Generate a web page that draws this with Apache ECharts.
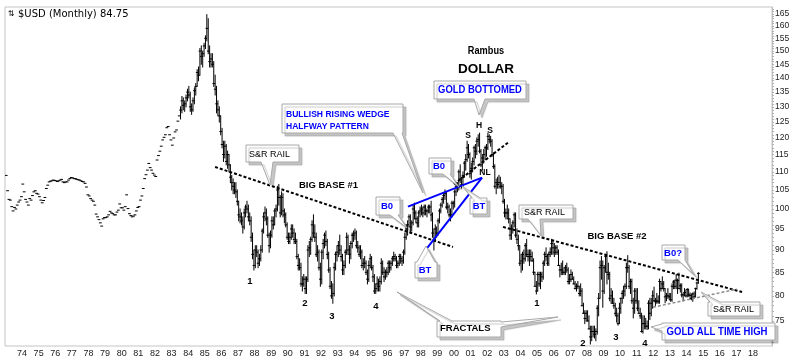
<!DOCTYPE html>
<html><head><meta charset="utf-8">
<script src="https://cdn.jsdelivr.net/npm/echarts@6/dist/echarts.min.js"></script>
<style>html,body{margin:0;padding:0;background:#fff}#c{width:800px;height:363px}</style>
</head><body><div id="c"></div>
<script>
// ---------- DATA ----------
const startYear = 1973;            // first month = Jan 1973
// close-only months, Jan 1973 .. Jun 1983
const closeOnly = [
 109.0,104.8,102.5,102.3,100.6,99.5,100.4,100.0,101.0,101.8,102.3,103.2,
 106.6,104.5,102.5,101.8,101.0,102.7,102.3,103.5,104.5,104.8,104.1,103.9,
 103.2,102.3,101.6,102.2,103.0,105.4,106.3,107.2,107.4,107.5,107.7,107.6,
 107.5,107.3,107.5,107.7,107.9,107.2,107.0,107.2,107.2,107.7,108.1,108.4,
 108.3,108.1,108.1,107.9,107.8,107.7,107.5,107.3,107.2,106.8,105.8,103.7,
 103.4,102.7,102.3,102.0,101.0,98.7,98.0,97.3,96.5,95.7,97.5,97.8,
 97.8,98.0,98.5,99.4,99.0,98.8,98.5,98.5,99.2,99.7,101.3,100.3,
 100.3,99.7,100.6,103.7,100.1,98.8,98.3,98.0,98.2,98.5,99.5,100.4,
 100.6,102.3,103.4,105.4,108.1,109.2,110.5,112.4,111.2,110.5,109.6,109.1,
 108.7,113.4,114.7,116.0,117.5,119.4,120.2,121.0,123.2,123.6,121.0,119.4,
 117.8,120.0,121.9,122.5,125.3,127.0
];
// monthly bars, Jul 1983 .. Sep 2014
const barClose = [
 128.9,132,130.5,131,133,135,
 134,130,129,132,135.5,137,142,141,150,148,149,152,
 155,159,150,146,147,145,138,136,131,129,127,122,
 118,115,117.5,113,115,112,108.5,107,106,105,104.5,102,
 98.5,98,97,95.5,99,100.5,100,98,97,93,89,86.5,
 90,89.5,87,88,90,94.5,98,99,97.5,93.5,91,93.5,
 97,96,99.5,100,105,103,99,103,99.5,98.5,96,93,
 92,93,95,94,92.5,92,88.5,86.5,86,82.5,82.5,83.5,
 81.5,83.5,90,90.5,92.5,96,94,93,89,89.5,86,83.5,
 89.5,91.5,93.5,92,89,85.5,82,80,80.5,86,89,89.5,
 91,90,88.5,85.5,86.5,89.5,93,90,89,91.5,93.5,93.5,
 94,91,90.5,89,89.5,86.5,87,87,85,83.5,86.5,88,
 86,84,81,81.5,82.5,82,83,87,85,84,85,85,
 87,86,87,88,88.5,88,86.5,87,88.5,88,87.5,89.5,
 93,95,96,98,95.5,96.5,100,99,97.5,96.5,99,99.5,
 100,99,100.5,99.5,99.5,100.5,100.5,98.5,94,92.5,95,94,
 97,99.5,101,102.5,103.5,104,100.5,100.5,98.5,98.5,101.5,101.5,
 104.5,106,106,110,108,106.5,109,112.5,113.5,117,115,109.5,
 111,113,117,116,119,119.5,116,112,114,115,117,117,
 120.5,119.5,119,115,111.5,106,107,106.5,107,106,106,102,
 99,99,99,97.5,93.5,95,96.5,98.5,93.5,92.5,91,87,
 87.5,89,88,91,89,88.5,89,88.5,87.5,85,82,81,
 84.5,82.5,84.5,84,87,89,88.5,87,89,89.5,91.5,90.5,
 89.5,90.5,89.5,86.5,85.5,85.5,85,85,86,85.5,83,83.5,
 84.5,83.5,82.5,81.5,82,82,80.5,81,78,76.5,75.5,76.5,
 75,73.5,72,73,73,72.5,73,77.5,79.5,86,86.5,81,
 86,88.5,85,84.5,79.5,80,78.5,78,76.5,76,74.5,77.5,
 79.5,80.5,81,82,86,86,82,83,79,77.5,81,79,
 77.5,76.5,76,73,74.5,74.5,74,74,78.5,76.5,78.5,80,
 79,78.8,79,78.8,83,81.5,82.5,81.5,79.8,80,80,79.8,
 79.2,82,82.9,82,83.3,83.2,81.5,82.1,80.2,80.2,80.7,80,
 81.3,80.2,80.1,79.5,80.4,79.8,81.5,82.7,84.75
];
const barHigh = [
 130,133.5,133,132,134,136,
 137,135,131,133,136.5,138,143,144,151,152,150,153,
 156,164.7,163,152,149,149,146,141,137,132,130,127,
 123,119,119,118,116,115,112,109,108,107,107,105,
 102,100,99,98,100,101,102,101,99,98,94,90,
 91,91,90,89,91,95,99,100.5,100,98,94,94.5,
 98,98,100,101,106,106.5,103.5,104.5,104,100,99,96.5,
 94,94,96,96,95,94,92.5,89,88,87,84,84.5,
 84,84,91,92,93,97,98.5,96,94,91,90,87,
 90,92.5,94,94.5,92.5,89.5,86,83,82.5,87,89.5,91,
 92,93.5,91,89,87.5,90,94,93.5,91,92,94,94.5,
 95,94.5,92,91,91,90,88,88.5,87.5,85.5,87.5,89,
 88.5,86.5,84.5,82.5,84,83.5,84,88,87.5,86,85.5,86,
 87.5,87.5,87.5,88.5,89.5,89,88.5,87.5,89,89,88.5,90,
 94,96,97,98.5,98.5,97,101,101.5,99.5,98,99.5,100.5,
 101,100.5,101,101,100,101,101,102,99,95,96,95.5,
 97.5,100,101.5,103,104,105,104.5,101.5,101,100,102,102,
 105,107,107,110.5,112,108.5,110,113,115,119,118,115.5,
 112.5,114,117.5,118,120,121,121.5,116.5,115,116.5,117.5,118,
 121.5,121,120.5,119.5,115.5,112,108,108.5,109,108.5,107,106.5,
 102.5,100,101,100,97.5,96,97,99,99,95,93.5,91,
 89,89.5,90,91.5,92.5,90,90,90,89.5,88,85,83,
 85,85,85,85,87.5,89.5,90.5,89,89.5,90.5,92.5,92,
 91.5,91,91,90,86.5,87,87.5,86,86.5,87,86,84.5,
 85.5,85,84,83,82.5,83,82,82.5,81.5,78.5,77,77,
 77,76,74,74,74,74,73.5,78,80.5,87.5,88.5,87.5,
 86.5,89,89.6,87,85,81.5,81,79.5,78.5,77.5,76.5,78.5,
 79.5,81,82,82.5,87,88.7,86.5,83.5,83.5,79.5,81.5,81.5,
 81.5,79,77.5,76.5,76,76,75.5,75,79,79.5,79.5,81,
 81.8,79.5,80.5,80,83.5,83,84,83,81.5,80.5,81.5,80.5,
 80.5,82.5,83.2,83.3,84.5,83.5,84.8,82.5,82.5,80.5,81.5,81.2,
 81.5,81.4,80.6,80.4,80.6,80.8,81.6,82.9,84.9
];
const barLow = [
 126,128,129,128.5,130,132,
 133,128.5,127.5,128.5,131,134,137,139,141,145,144,148,
 151,154,149,144,144,144,137,134,128,127,125,121,
 117,113,114,112,111,110,107,105,104,104,103,101,
 97,96.5,96,94,95,98,99,97,96,92,88,85.5,
 86,88.5,86,86.5,87.5,89.5,94,97,96,93,89.5,90.5,
 93,95,96,98,99.5,101,98,98.5,98,96.5,95.5,92.5,
 91.5,91.5,92.5,93,91.5,91.5,88,85.5,85.5,82,81,82,
 80.5,80.5,83,88.5,89,92,93,92,88.5,87.5,85.5,82,
 82.5,88,90.5,91,88,85,81.5,79.5,78.5,80,85.5,87.5,
 88.5,89,87.5,84.5,84.5,86,89,89,87,88,90.5,92,
 92.5,90.5,89.5,88.5,88,86,85.5,86,84.5,82.5,83,86,
 85.5,83,80.5,80.5,81,81,81,82.5,84.5,83,83.5,84,
 84.5,85,85.5,86.5,87.5,87.5,86,86,86.5,87,86.5,87,
 89,92.5,93.5,95.5,94,94.5,96,97.5,96.5,95.5,95.5,98,
 98.5,98,98.5,98.5,98,99,99,97,93,90,92,93,
 93.5,96.5,99,100.5,101.5,102.5,100,99,98,97,98,100,
 100.5,103.5,104.5,105,107,105.5,106,108.5,110.5,113,114,108.5,
 108,110,112,114,115,117.5,115.5,111.5,110.5,112.5,113.5,114.5,
 116.5,118.5,117.5,114.5,111,105.5,104,105.5,105.5,105.5,104,101.5,
 98,97.5,97.5,96.5,92.5,92.5,94,95.5,93,91.5,90,86.5,
 85,85.5,87,87.5,88.5,87.5,86.5,87.5,87.5,84.5,82,80.4,
 81,82,81.5,83,83.5,86.5,87.5,86.5,86.5,88.5,89,89,
 88.5,89,89,86.5,84,84.5,84.5,84.5,84.5,85,82.5,82.5,
 83,83.5,82.5,81.5,81,81.5,80,80,78,76.5,74.5,75,
 75,73.5,70.7,71.3,72,71.8,71.3,72.5,76,79.5,83.5,77.7,
 80.5,85,82.5,83.5,79,78.5,78.5,77.5,76,74.8,74.2,74.5,
 76.5,78.5,79.5,80,81.5,85,81.5,80.5,78.5,75.6,76.5,78.5,
 77,76.5,75.5,72.9,72.7,73.5,73.5,73.4,73.5,75.3,76,77.5,
 78.9,78,78.5,78.5,78.5,81,81.5,81,78.6,79,79.5,79.2,
 78.9,78.9,81.5,81.5,81.5,80.5,81.5,80.8,79.8,79,80,79.8,
 79.8,79.9,79.3,79.2,78.9,79.7,79.8,81.4,82.6
];
// axis tick labels
const yTickLabels = [75,80,85,90,95,100,105,110,115,120,125,130,135,140,145,150,155,160,165];
const xTickYears = [];
for (let y = 1974; y <= 2018; y++) xTickYears.push(y);
// trend lines [year, value]
const railOne   = [[1985.62,111.4],[1999.94,90.7]];
const neckLine  = [[2000.0,106.6],[2003.31,118.8]];
const railTwo   = [[2002.95,95.5],[2017.34,80.8]];
const supportLn = [[2011.98,77.7],[2017.03,81.4]];
const wedgeTop  = [[1997.23,100.6],[2001.69,108.4]];
const wedgeLow  = [[1998.25,89.8],[2001.69,108.4]];

// ---------- BUILD ----------
const L = Math.log;
const bars = [];
closeOnly.forEach((c, i) => {
  bars.push([startYear + (i + 0.5) / 12, L(c), L(c), L(c)]);
});
barClose.forEach((c, j) => {
  const i = closeOnly.length + j;
  bars.push([startYear + (i + 0.5) / 12, L(barLow[j]), L(barHigh[j]), L(c)]);
});
const toLn = arr => arr.map(p => [p[0], L(p[1])]);

const Y_MIN = 4.25329, Y_MAX = 5.12386;
const X_MIN = 1972.976, X_MAX = 2019.142;
const minorTicks = [];
for (let v = 71; v <= 167; v++) minorTicks.push(L(v));

const SANS = "'Liberation Sans', Arial, sans-serif";
const BLUE = '#0000ff';

function callout(b, tails) {
  const x1 = b[0], y1 = b[1], x2 = b[2], y2 = b[3];
  const on = s => tails.filter(t => t.side === s);
  const pts = [[x1, y1]];
  on('top').forEach(t => pts.push([t.a, y1], t.tip, [t.b, y1]));
  pts.push([x2, y1]);
  on('right').forEach(t => pts.push([x2, t.a], t.tip, [x2, t.b]));
  pts.push([x2, y2]);
  on('bottom').forEach(t => pts.push([t.b, y2], t.tip, [t.a, y2]));
  pts.push([x1, y2]);
  on('left').forEach(t => pts.push([x1, t.b], t.tip, [x1, t.a]));
  return {
    type: 'polygon', z: 50, shape: { points: pts },
    style: { fill: '#fff', stroke: '#a8a8a8', lineWidth: 1,
      shadowColor: 'rgba(0,0,0,0.22)', shadowOffsetX: 3, shadowOffsetY: 3, shadowBlur: 1 }
  };
}
function txt(text, x, y, font, fill, align, sx) {
  return {
    type: 'text', z: 60, x: x, y: y, scaleX: sx || 1,
    style: { text: text, font: font, fill: fill, align: align || 'center', textAlign: align || 'center',
      verticalAlign: 'middle', textVerticalAlign: 'middle' }
  };
}

const graphics = [
  callout([434,81,526,99], [{side:'bottom', a:474, b:485, tip:[479,115]}]),
  callout([282,104,403,133], [{side:'bottom', a:393, b:402, tip:[423,193]}]),
  callout([246,145,299,162], [{side:'bottom', a:261, b:273, tip:[270,185]}]),
  callout([376,197,400,215], [{side:'bottom', a:390, b:398, tip:[407,228]}]),
  callout([429,158,451,174], [{side:'bottom', a:443, b:450, tip:[459,187]}]),
  callout([470,198,487,214], [{side:'top', a:472, b:480, tip:[462,186]}]),
  callout([415,262,437,278], [{side:'top', a:417, b:435, tip:[426,246]}]),
  callout([519,205,573,219], [{side:'bottom', a:528, b:540, tip:[541,236]}]),
  callout([662,245,685,260], [{side:'bottom', a:678, b:685, tip:[694,275]}]),
  callout([708,302,760,316], [{side:'top', a:710, b:720, tip:[701,292]}]),
  callout([662,323,775,340], [{side:'left', a:324, b:331, tip:[651,327]}]),
  callout([437,321,501,337], [{side:'top', a:440, b:452, tip:[397,292]}, {side:'right', a:322, b:327, tip:[558,317]}]),

  txt('GOLD BOTTOMED', 480, 90.5, 'bold 10.5px ' + SANS, BLUE, 'center', 0.9),
  txt('BULLISH RISING WEDGE', 286, 114.5, 'bold 9.2px ' + SANS, BLUE, 'left', 0.93),
  txt('HALFWAY PATTERN', 286, 126.5, 'bold 9.2px ' + SANS, BLUE, 'left', 0.93),
  txt('S&R RAIL', 249, 154.5, '9px ' + SANS, '#000', 'left'),
  txt('B0', 387, 206.5, 'bold 9.5px ' + SANS, BLUE),
  txt('B0', 439, 166.5, 'bold 9.5px ' + SANS, BLUE),
  txt('BT', 479, 206.5, 'bold 9.5px ' + SANS, BLUE),
  txt('BT', 425, 270.5, 'bold 9.5px ' + SANS, BLUE),
  txt('S&R RAIL', 524, 212.5, '9px ' + SANS, '#000', 'left'),
  txt('B0?', 673, 253, 'bold 9.5px ' + SANS, BLUE),
  txt('S&R RAIL', 713, 309.5, '9px ' + SANS, '#000', 'left'),
  txt('GOLD ALL TIME HIGH', 717, 332, 'bold 11px ' + SANS, BLUE, 'center', 0.87),
  txt('FRACTALS', 440, 328, 'bold 9.5px ' + SANS, '#000', 'left'),

  txt('Rambus', 486, 51, 'bold 10px ' + SANS, '#000', 'center', 0.92),
  txt('DOLLAR', 486, 69, 'bold 13.5px ' + SANS, '#000'),
  txt('BIG BASE #1', 328.5, 185, 'bold 9.5px ' + SANS, '#000'),
  txt('BIG BASE #2', 617, 236, 'bold 9.5px ' + SANS, '#000'),
  txt('S', 468, 136, 'bold 8.5px ' + SANS, '#000'),
  txt('H', 479, 126, 'bold 8.5px ' + SANS, '#000'),
  txt('S', 490, 131, 'bold 8.5px ' + SANS, '#000'),
  txt('NL', 485, 173, 'bold 8.5px ' + SANS, '#000'),
  txt('1', 250, 281, 'bold 9.5px ' + SANS, '#000'),
  txt('2', 305, 303, 'bold 9.5px ' + SANS, '#000'),
  txt('3', 332, 316, 'bold 9.5px ' + SANS, '#000'),
  txt('4', 376, 306, 'bold 9.5px ' + SANS, '#000'),
  txt('1', 537, 303, 'bold 9.5px ' + SANS, '#000'),
  txt('2', 583, 343, 'bold 9.5px ' + SANS, '#000'),
  txt('3', 616, 337, 'bold 9.5px ' + SANS, '#000'),
  txt('4', 645, 343, 'bold 9.5px ' + SANS, '#000'),

  txt('⇅', 11, 14, "8px 'DejaVu Sans'", '#000'),
  txt('$USD (Monthly) 84.75', 18, 14, "10px 'DejaVu Sans'", '#000', 'left')
];

function trend(data, color, width, dash) {
  return {
    type: 'line', data: toLn(data), z: 5, silent: true, showSymbol: false, symbol: 'none',
    lineStyle: { color: color, width: width, type: dash || 'solid' }
  };
}

const chart = echarts.init(document.getElementById('c'), null, { renderer: 'canvas' });
chart.setOption({
  animation: false,
  backgroundColor: '#fff',
  grid: { left: 5, right: 28, top: 7, bottom: 17, show: true, borderColor: '#c4c4c4', borderWidth: 1, backgroundColor: 'transparent' },
  xAxis: {
    type: 'value', min: X_MIN, max: X_MAX,
    axisLine: { show: false }, axisTick: { show: false }, splitLine: { show: false },
    axisLabel: {
      customValues: xTickYears, margin: 3, color: '#222', fontSize: 9, fontFamily: SANS,
      formatter: v => String(Math.round(v) % 100).padStart(2, '0')
    }
  },
  yAxis: {
    type: 'value', position: 'right', min: Y_MIN, max: Y_MAX,
    axisLine: { show: true, lineStyle: { color: '#c4c4c4' } },
    axisTick: { show: true, customValues: minorTicks, length: 2, lineStyle: { color: '#b0b0b0' } },
    splitLine: { show: false },
    axisLabel: {
      customValues: yTickLabels.map(v => L(v)), margin: 3, color: '#222', fontSize: 8.5, fontFamily: SANS,
      formatter: v => String(Math.round(Math.exp(v)))
    }
  },
  series: [
    {
      type: 'custom', z: 2, silent: true, clip: true,
      dimensions: ['t', 'lo', 'hi', 'c'],
      encode: { x: 0, y: [1, 2, 3] },
      data: bars,
      renderItem: function (params, api) {
        const t = api.value(0);
        const pLo = api.coord([t, api.value(1)]);
        const pHi = api.coord([t, api.value(2)]);
        const pC = api.coord([t, api.value(3)]);
        const kids = [];
        if (pLo[1] - pHi[1] > 0.5) {
          kids.push({ type: 'line', shape: { x1: pLo[0], y1: pLo[1] + 0.5, x2: pHi[0], y2: pHi[1] - 0.5 },
            style: { stroke: '#000', lineWidth: 1 } });
        }
        kids.push({ type: 'line', shape: { x1: pC[0] - 1.3, y1: pC[1], x2: pC[0] + 1.5, y2: pC[1] },
          style: { stroke: '#000', lineWidth: 1 } });
        return { type: 'group', children: kids };
      }
    },
    trend(railOne, '#000', 2, [3, 2]),
    trend(neckLine, '#000', 2, [3, 2]),
    trend(railTwo, '#000', 2, [3, 2]),
    trend(supportLn, '#8a8a8a', 1.5, [3, 2]),
    trend(wedgeTop, BLUE, 2),
    trend(wedgeLow, BLUE, 2)
  ],
  graphic: graphics
});
</script>
</body></html>
